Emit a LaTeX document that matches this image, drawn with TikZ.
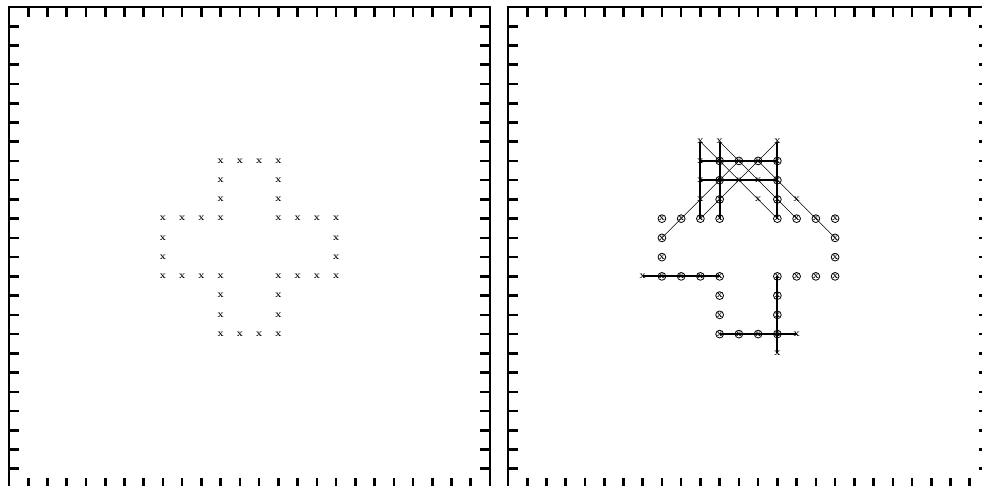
\documentclass[tikz,border=0pt]{standalone}
\begin{document}
\begin{tikzpicture}[x=1pt,y=-1pt,
  frame/.style={line width=2pt},
  tickmark/.style={line width=2.6pt},
  xm/.style={inner sep=0pt, font=\fontsize{10}{12}\selectfont\bfseries},
  om/.style={xm, circle, draw, line width=0.8pt, minimum size=7.8pt},
  heavy/.style={line width=2pt},
  light/.style={line width=0.6pt}]
\useasboundingbox (0,0) rectangle (982,485);
\clip (0,0) rectangle (982,485);
\def\shapepts{11/8,12/8,13/8,14/8,11/9,14/9,11/10,14/10,8/11,9/11,10/11,11/11,14/11,15/11,16/11,17/11,8/12,17/12,8/13,17/13,8/14,9/14,10/14,11/14,14/14,15/14,16/14,17/14,11/15,14/15,11/16,14/16,11/17,12/17,13/17,14/17}
\def\extrapts{10/7,11/7,14/7,10/8,10/9,12/9,13/9,10/10,13/10,15/10,7/14,15/17,14/18}
% frames and ticks
\foreach \ox in {9,508} {
  \begin{scope}[shift={(\ox,7)}, x=19.24pt, y=-19.24pt]
    \draw[frame] (0,0) rectangle (25,25);
    \foreach \k in {1,...,24} {
      \draw[tickmark] (\k,0) -- ++(0pt,-10pt);
      \draw[tickmark] (\k,25) -- ++(0pt,10pt);
      \draw[tickmark] (0,\k) -- ++(10pt,0pt);
      \draw[tickmark] (25,\k) -- ++(-10pt,0pt);
    }
  \end{scope}
}
% left panel
\begin{scope}[shift={(9,7)}, x=19.24pt, y=-19.24pt]
  \foreach \c/\r in \shapepts { \node[xm] (L-\c-\r) at (\c,\r) {x}; }
\end{scope}
% right panel
\begin{scope}[shift={(508,7)}, x=19.24pt, y=-19.24pt]
  \foreach \c/\r in \shapepts { \node[om] (R-\c-\r) at (\c,\r) {x}; }
  \foreach \c/\r in \extrapts { \node[xm] (R-\c-\r) at (\c,\r) {x}; }
\end{scope}
% heavy lines
\draw[heavy] (R-10-8.center) -- (R-14-8.center);
\draw[heavy] (R-10-9.center) -- (R-14-9.center);
\draw[heavy] (R-10-7.center) -- (R-10-11.center);
\draw[heavy] (R-11-7.center) -- (R-11-11.center);
\draw[heavy] (R-14-7.center) -- (R-14-11.center);
\draw[heavy] (R-7-14.center) -- (R-11-14.center);
\draw[heavy] (R-11-17.center) -- (R-15-17.center);
\draw[heavy] (R-14-14.center) -- (R-14-18.center);
% light diagonals
\draw[light] (R-10-7.center) -- (R-14-11.center);
\draw[light] (R-11-7.center) -- (R-15-11.center);
\draw[light] (R-13-8.center) -- (R-17-12.center);
\draw[light] (R-14-7.center) -- (R-10-11.center);
\draw[light] (R-12-8.center) -- (R-8-12.center);
\end{tikzpicture}
\end{document}
